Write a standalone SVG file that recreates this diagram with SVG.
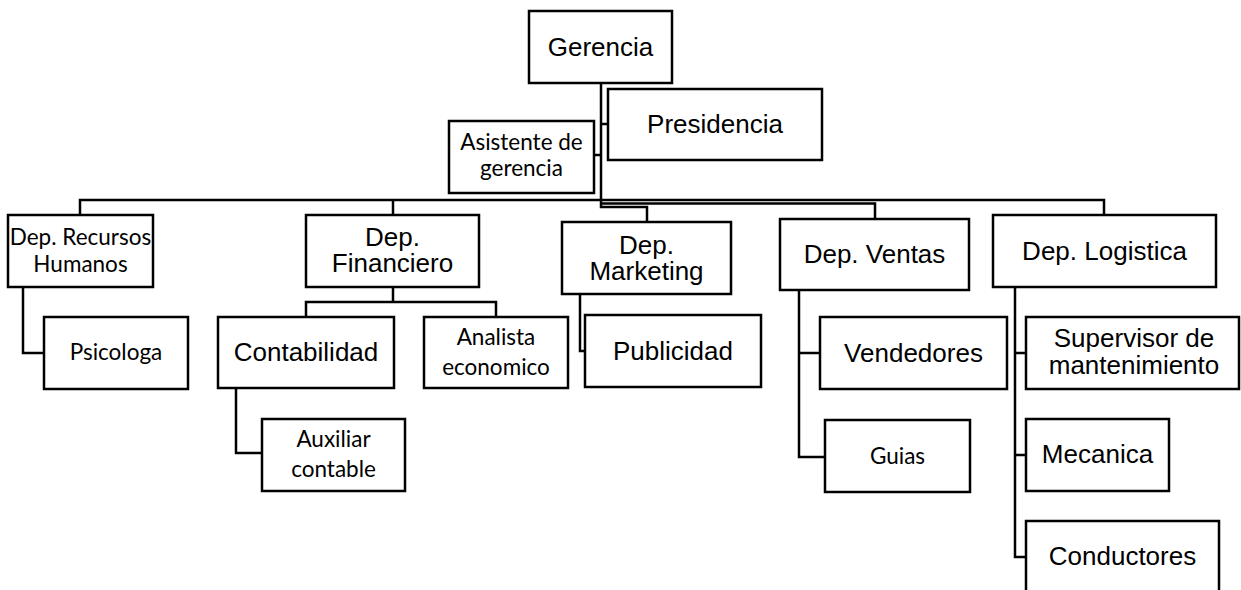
<svg xmlns="http://www.w3.org/2000/svg" width="1241" height="590" viewBox="0 0 1241 590">
<style>
rect{fill:#fff;stroke:#000;stroke-width:2.5}
.c path{fill:none;stroke:#000;stroke-width:2.5}
text{fill:#000;text-anchor:middle}
.a{font-family:"Liberation Sans",Arial,sans-serif;font-size:26px}
.b{font-family:Lato,"Noto Sans",sans-serif;font-size:22.5px}
</style>
<rect x="0" y="0" width="1241" height="590" style="stroke:none"/>
<g class="c">
<path d="M601,83 V207 H647 V222"/>
<path d="M601,124 H608"/>
<path d="M594,155 H601"/>
<path d="M80,215 V200 H1104 V215"/>
<path d="M393,200 V215"/>
<path d="M601,203.5 H875 V219"/>
<path d="M23,287 V353 H44"/>
<path d="M393,287 V302 H306 V317 M393,302 H496 V317"/>
<path d="M236,388 V453 H262"/>
<path d="M580,294 V351 H585"/>
<path d="M799,290 V457 H825 M799,353 H820"/>
<path d="M1015,287 V557 H1026 M1015,353 H1026 M1015,455 H1026"/>
</g>
<g id="gerencia"><rect x="529" y="11" width="143" height="72"/><text class="a" x="600.5" y="56">Gerencia</text></g>
<g id="presidencia"><rect x="608" y="89" width="214" height="71"/><text class="a" x="715" y="133">Presidencia</text></g>
<g id="asistente"><rect x="449" y="121" width="145" height="72"/><text class="b" x="521.5" y="150">Asistente de</text><text class="b" x="521.5" y="176">gerencia</text></g>
<g id="rrhh"><rect x="8" y="215" width="145" height="72"/><text class="b" x="80.5" y="245">Dep. Recursos</text><text class="b" x="80.5" y="272">Humanos</text></g>
<g id="psicologa"><rect x="44" y="317" width="144" height="72"/><text class="b" x="116" y="360">Psicologa</text></g>
<g id="financiero"><rect x="306" y="215" width="173" height="72"/><text class="a" x="392.5" y="246">Dep.</text><text class="a" x="392.5" y="272">Financiero</text></g>
<g id="contabilidad"><rect x="218" y="317" width="176" height="71"/><text class="a" x="306" y="361">Contabilidad</text></g>
<g id="analista"><rect x="424" y="317" width="144" height="71"/><text class="b" x="496" y="345">Analista</text><text class="b" x="496" y="375">economico</text></g>
<g id="auxiliar"><rect x="262" y="419" width="143" height="72"/><text class="b" x="333.5" y="447">Auxiliar</text><text class="b" x="333.5" y="477">contable</text></g>
<g id="marketing"><rect x="562" y="222" width="169" height="72"/><text class="a" x="646.5" y="254">Dep.</text><text class="a" x="646.5" y="280">Marketing</text></g>
<g id="publicidad"><rect x="585" y="315" width="176" height="72"/><text class="a" x="673" y="360">Publicidad</text></g>
<g id="ventas"><rect x="780" y="219" width="189" height="71"/><text class="a" x="874.5" y="263">Dep. Ventas</text></g>
<g id="vendedores"><rect x="820" y="317" width="187" height="72"/><text class="a" x="913.5" y="362">Vendedores</text></g>
<g id="guias"><rect x="825" y="420" width="145" height="72"/><text class="b" x="897.5" y="464">Guias</text></g>
<g id="logistica"><rect x="993" y="215" width="223" height="72"/><text class="a" x="1104.5" y="260">Dep. Logistica</text></g>
<g id="supervisor"><rect x="1026" y="317" width="213" height="72"/><text class="a" x="1134" y="347">Supervisor de</text><text class="a" x="1134" y="374">mantenimiento</text></g>
<g id="mecanica"><rect x="1026" y="419" width="143" height="72"/><text class="a" x="1097.5" y="463">Mecanica</text></g>
<g id="conductores"><rect x="1026" y="521" width="193" height="72"/><text class="a" x="1122.5" y="565">Conductores</text></g>
</svg>
